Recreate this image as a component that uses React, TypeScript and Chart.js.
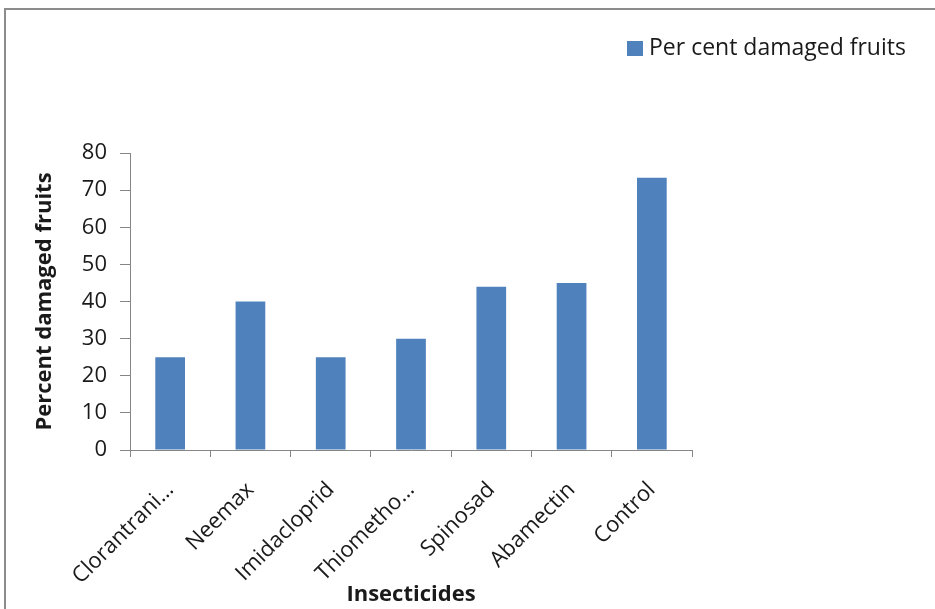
import React, { useEffect, useRef } from "react";
import { Chart, registerables } from "chart.js";

Chart.register(...registerables);

const categories = [
  "Clorantrani…",
  "Neemax",
  "Imidacloprid",
  "Thiometho…",
  "Spinosad",
  "Abamectin",
  "Control",
];
const damagedFruits = [25, 40, 25, 30, 44, 45, 73.3];
const seriesLabel = "Per cent damaged fruits";
const xTitle = "Insecticides";
const yTitle = "Percent damaged fruits";
const yMin = 0;
const yMax = 80;
const yStep = 10;

const BAR_COLOR = "#4F81BD";
const AXIS_COLOR = "#868686";
const TEXT_COLOR = "#1a1a1a";
const FONT = "'Open Sans', 'Liberation Sans', sans-serif";

const legendPlugin = {
  id: "customLegend",
  afterDraw(chart: any) {
    const ctx = chart.ctx;
    const ds = chart.data.datasets[0];
    ctx.save();
    ctx.fillStyle = ds.backgroundColor;
    ctx.fillRect(627, 41, 16, 15);
    ctx.font = `23px ${FONT}`;
    ctx.fillStyle = TEXT_COLOR;
    ctx.textBaseline = "middle";
    ctx.textAlign = "left";
    ctx.fillText(ds.label, 649, 48.5);
    ctx.restore();
  },
};

export default function App() {
  const canvasRef = useRef<HTMLCanvasElement | null>(null);

  useEffect(() => {
    if (!canvasRef.current) return;
    const chart = new Chart(canvasRef.current, {
      type: "bar",
      data: {
        labels: categories,
        datasets: [
          {
            label: seriesLabel,
            data: damagedFruits,
            backgroundColor: BAR_COLOR,
            borderWidth: 0,
            categoryPercentage: 1,
            barPercentage: 0.37,
          },
        ],
      },
      options: {
        responsive: false,
        animation: false,
        layout: { padding: { left: 0, top: 153, right: 243, bottom: 0 } },
        plugins: {
          legend: { display: false },
          tooltip: { enabled: false },
        },
        scales: {
          x: {
            afterFit: (scale: any) => {
              scale.height = 159;
            },
            grid: {
              display: true,
              drawOnChartArea: false,
              drawTicks: true,
              tickLength: 7,
              color: AXIS_COLOR,
              offset: true,
            },
            border: { display: true, color: AXIS_COLOR, width: 1 },
            ticks: {
              autoSkip: false,
              minRotation: 45,
              maxRotation: 45,
              padding: 20,
              color: TEXT_COLOR,
              font: { family: FONT, size: 22 },
            },
            title: {
              display: true,
              text: xTitle,
              color: TEXT_COLOR,
              font: { family: FONT, size: 22, weight: "bold" },
              padding: { top: 0, bottom: 1 },
            },
          },
          y: {
            min: yMin,
            max: yMax,
            afterFit: (scale: any) => {
              scale.width = 130;
            },
            grid: {
              display: true,
              drawOnChartArea: false,
              drawTicks: true,
              tickLength: 10,
              color: AXIS_COLOR,
            },
            border: { display: true, color: AXIS_COLOR, width: 1 },
            ticks: {
              stepSize: yStep,
              padding: 13,
              color: TEXT_COLOR,
              font: { family: FONT, size: 22 },
            },
            title: {
              display: true,
              text: yTitle,
              color: TEXT_COLOR,
              font: { family: FONT, size: 22, weight: "bold" },
              padding: { top: 32, bottom: 0 },
            },
          },
        },
      },
      plugins: [legendPlugin],
    });
    return () => chart.destroy();
  }, []);

  return (
    <div style={{ position: "absolute", left: 0, top: 0, width: 935, height: 609, overflow: "hidden", background: "#fff" }}>
      <canvas ref={canvasRef} width={935} height={609} style={{ position: "absolute", left: 0, top: 0 }} />
      <div
        style={{
          position: "absolute",
          left: 4,
          top: 8,
          width: 960,
          height: 700,
          borderLeft: "2px solid #8c8c8c",
          borderTop: "2px solid #8c8c8c",
          pointerEvents: "none",
        }}
      />
    </div>
  );
}
